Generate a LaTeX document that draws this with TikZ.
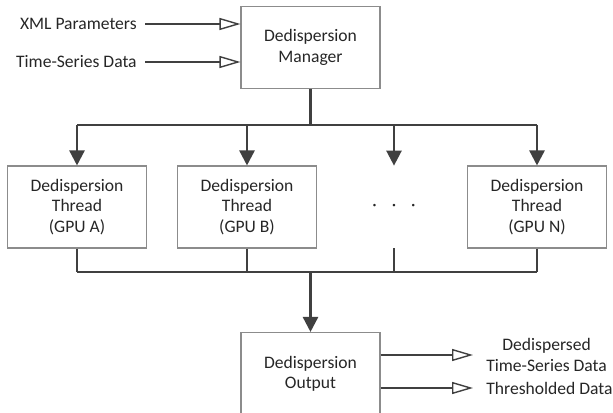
\documentclass[tikz,border=0pt]{standalone}
\usepackage{fontspec}
\setmainfont{Carlito}
\usepackage{tikz}
\usetikzlibrary{calc, arrows.meta}

\definecolor{linegray}{HTML}{404040}
\definecolor{boxgray}{HTML}{8C8C8C}
\definecolor{txtgray}{HTML}{262626}

\begin{document}
\begin{tikzpicture}[
        font=\fontsize{10}{11.5}\selectfont, text=txtgray,
        block/.style={draw=boxgray, line width=0.6pt, minimum width=2.78cm, minimum height=1.64cm, align=center},
        bus/.style={draw=linegray, line width=1.4pt},
        busarrow/.style={bus, -{Triangle[length=0.3cm, width=0.3cm]}},
        flow/.style={draw=linegray, line width=0.8pt, -{Triangle[open, length=0.42cm, width=0.24cm, line width=0.8pt]}}
    ]
        \useasboundingbox (0,0) rectangle (12.26,-8.26);
        % boxes
        \node[block] (mgr) at (6.21,-0.95) {Dedispersion\\Manager};
        \node[block] (thA) at (1.54,-4.14) {Dedispersion\\Thread\\(GPU A)};
        \node[block] (thB) at (4.94,-4.14) {Dedispersion\\Thread\\(GPU B)};
        \node[minimum width=2.78cm, minimum height=1.64cm] (dots) at (7.88,-4.14) {·\hspace{0.3cm}·\hspace{0.3cm}·};
        \node[block] (thN) at (10.74,-4.14) {Dedispersion\\Thread\\(GPU N)};
        \node[block] (out) at (6.21,-7.47) {Dedispersion\\Output};
        % inputs and outputs
        \node[anchor=east, inner xsep=0.16cm] (xml) at (2.9,-0.48) {XML Parameters};
        \node[anchor=east, inner xsep=0.16cm] (tsd) at (2.9,-1.24) {Time-Series Data};
        \node[anchor=west, inner xsep=0.26cm, align=center] (dsd) at (9.46,-7.1) {Dedispersed\\Time-Series Data};
        \node[anchor=west, inner xsep=0.26cm] (thr) at (9.46,-7.76) {Thresholded Data};
        \coordinate (top) at (6.21,-2.5);
        \coordinate (bot) at (6.21,-5.44);
        \draw[flow] (xml.east) -- (xml.east -| mgr.west);
        \draw[flow] (tsd.east) -- (tsd.east -| mgr.west);
        \draw[flow] (out.east |- dsd.west) -- (dsd.west);
        \draw[flow] (out.east |- thr.west) -- (thr.west);
        % fan out / fan in
        \draw[bus] (mgr.south) -- (top);
        \draw[bus] (thA.north |- top) -- (thN.north |- top);
        \draw[bus] (thA.south |- bot) -- (thN.south |- bot);
        \foreach \t in {thA,thB,dots,thN}
        {
            \draw[busarrow] (\t.north |- top) -- (\t.north);
            \draw[bus] (\t.south) -- (\t.south |- bot);
        }
        \draw[busarrow] (bot) -- (out.north);
\end{tikzpicture}
\end{document}
